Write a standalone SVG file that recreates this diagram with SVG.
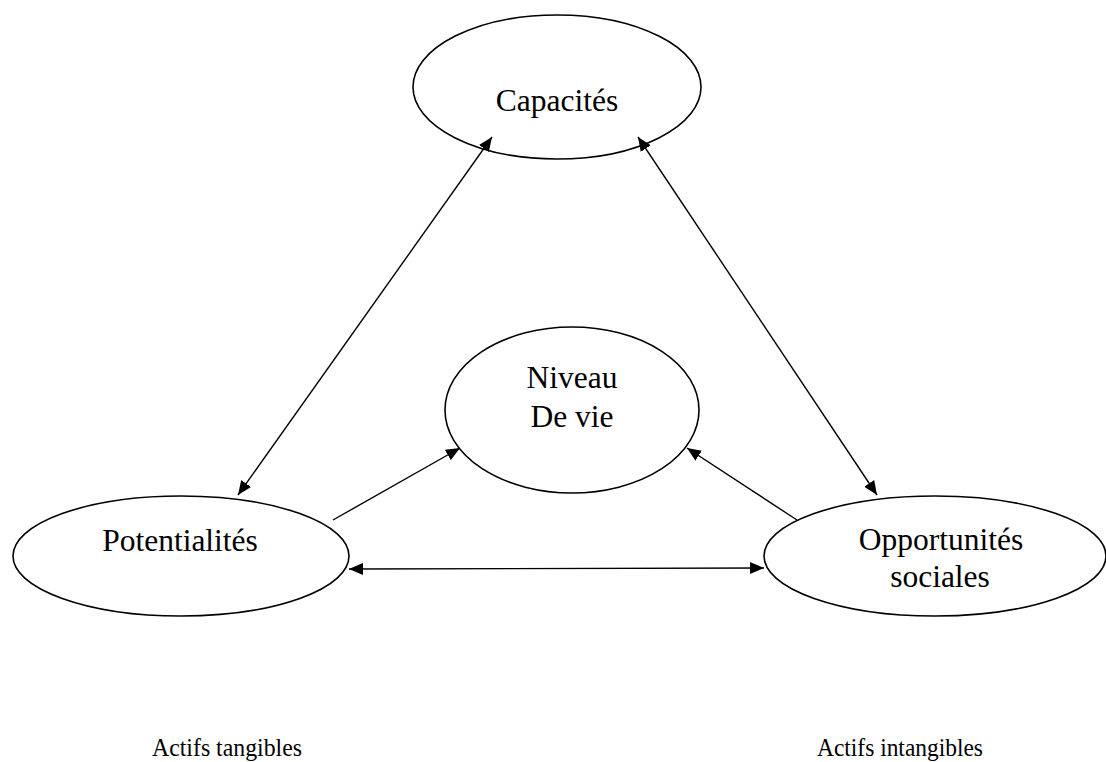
<svg xmlns="http://www.w3.org/2000/svg" width="1106" height="762" viewBox="0 0 1106 762">
  <style>
    .node ellipse { fill: #ffffff; stroke: #000000; stroke-width: 1.6; }
    .label { font-family: "Liberation Serif", "Times New Roman", serif; font-size: 31.5px; fill: #000000; text-anchor: middle; }
    .note { font-family: "Liberation Serif", "Times New Roman", serif; font-size: 25px; fill: #000000; }
    .link { stroke: #000000; stroke-width: 1.4; fill: none; }
  </style>
  <defs>
    <marker id="head" viewBox="0 0 14 12" refX="14" refY="6" markerWidth="14" markerHeight="12" markerUnits="userSpaceOnUse" orient="auto-start-reverse">
      <path d="M0,0 L14,6 L0,12 Z" fill="#000000"/>
    </marker>
  </defs>
  <rect width="1106" height="762" fill="#ffffff"/>

  <g id="node-capacites" class="node">
    <ellipse cx="557" cy="87" rx="144" ry="72"/>
    <text class="label" x="557" y="111">Capacités</text>
  </g>

  <g id="node-niveau-de-vie" class="node">
    <ellipse cx="572" cy="410" rx="127" ry="83"/>
    <text class="label" x="572" y="388">Niveau</text>
    <text class="label" x="572" y="427">De vie</text>
  </g>

  <g id="node-potentialites" class="node">
    <ellipse cx="181" cy="556" rx="168" ry="60"/>
    <text class="label" x="180" y="551">Potentialités</text>
  </g>

  <g id="node-opportunites" class="node">
    <ellipse cx="935" cy="556" rx="171" ry="60"/>
    <text class="label" x="941" y="550">Opportunités</text>
    <text class="label" x="940" y="587">sociales</text>
  </g>

  <g id="connectors">
    <line class="link" x1="492" y1="137" x2="238" y2="495" marker-start="url(#head)" marker-end="url(#head)"/>
    <line class="link" x1="638" y1="137" x2="877" y2="495" marker-start="url(#head)" marker-end="url(#head)"/>
    <line class="link" x1="333" y1="520" x2="460" y2="448" marker-end="url(#head)"/>
    <line class="link" x1="797" y1="520" x2="687" y2="448" marker-end="url(#head)"/>
    <line class="link" x1="349" y1="569" x2="764" y2="568" marker-start="url(#head)" marker-end="url(#head)"/>
  </g>

  <g id="captions">
    <text class="note" x="152" y="756" textLength="150" lengthAdjust="spacingAndGlyphs">Actifs tangibles</text>
    <text class="note" x="817" y="756" textLength="166" lengthAdjust="spacingAndGlyphs">Actifs intangibles</text>
  </g>
</svg>
